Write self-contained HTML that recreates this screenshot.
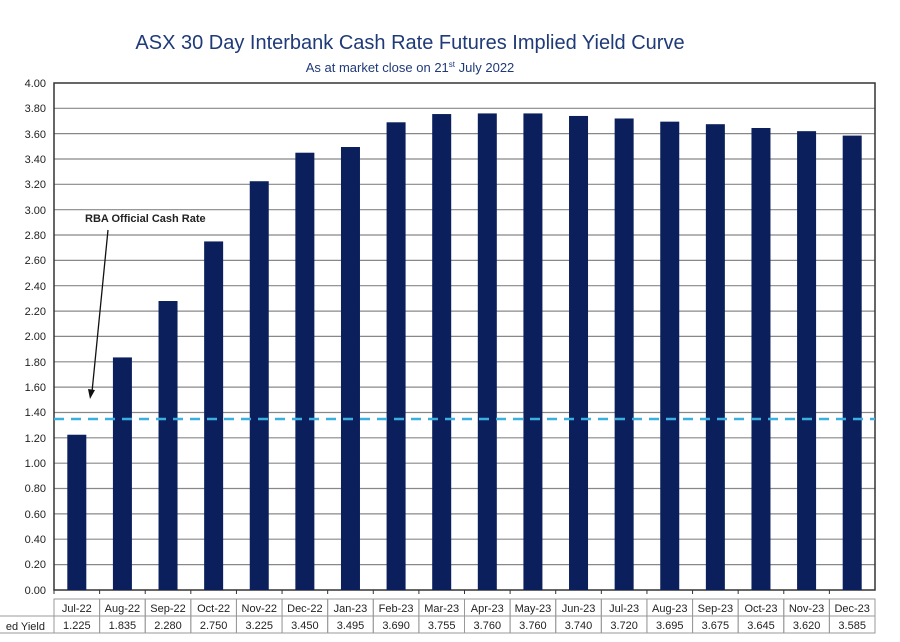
<!DOCTYPE html>
<html><head><style>body{margin:0;background:#fff}</style></head><body>
<svg width="900" height="637" xmlns="http://www.w3.org/2000/svg" font-family="Liberation Sans, sans-serif">
<text x="410" y="49" text-anchor="middle" font-size="20" fill="#1f3a78">ASX 30 Day Interbank Cash Rate Futures Implied Yield Curve</text>
<text x="410" y="72" text-anchor="middle" font-size="13" fill="#1f3a78">As at market close on 21<tspan font-size="8" dy="-5">st</tspan><tspan dy="5"> July 2022</tspan></text>
<g stroke="#888" stroke-width="1.2">
<line x1="54" x2="875" y1="108.3" y2="108.3"/><line x1="54" x2="875" y1="133.6" y2="133.6"/><line x1="54" x2="875" y1="159" y2="159"/><line x1="54" x2="875" y1="184.3" y2="184.3"/><line x1="54" x2="875" y1="209.7" y2="209.7"/><line x1="54" x2="875" y1="235" y2="235"/><line x1="54" x2="875" y1="260.4" y2="260.4"/><line x1="54" x2="875" y1="285.7" y2="285.7"/><line x1="54" x2="875" y1="311.1" y2="311.1"/><line x1="54" x2="875" y1="336.4" y2="336.4"/><line x1="54" x2="875" y1="361.8" y2="361.8"/><line x1="54" x2="875" y1="387.1" y2="387.1"/><line x1="54" x2="875" y1="412.5" y2="412.5"/><line x1="54" x2="875" y1="437.8" y2="437.8"/><line x1="54" x2="875" y1="463.2" y2="463.2"/><line x1="54" x2="875" y1="488.5" y2="488.5"/><line x1="54" x2="875" y1="513.9" y2="513.9"/><line x1="54" x2="875" y1="539.2" y2="539.2"/><line x1="54" x2="875" y1="564.6" y2="564.6"/>
</g>
<rect x="54" y="83" width="821" height="507" fill="none" stroke="#333" stroke-width="1.5"/>
<g font-size="11" fill="#222" text-anchor="end">
<text x="46" y="87">4.00</text><text x="46" y="112">3.80</text><text x="46" y="138">3.60</text><text x="46" y="163">3.40</text><text x="46" y="188">3.20</text><text x="46" y="214">3.00</text><text x="46" y="239">2.80</text><text x="46" y="264">2.60</text><text x="46" y="290">2.40</text><text x="46" y="315">2.20</text><text x="46" y="340">2.00</text><text x="46" y="366">1.80</text><text x="46" y="391">1.60</text><text x="46" y="416">1.40</text><text x="46" y="442">1.20</text><text x="46" y="467">1.00</text><text x="46" y="492">0.80</text><text x="46" y="518">0.60</text><text x="46" y="543">0.40</text><text x="46" y="568">0.20</text><text x="46" y="594">0.00</text>
</g>
<g fill="#0b1f5c" id="bars"></g>
<line x1="54" x2="875" y1="419" y2="419" stroke="#3ab0e0" stroke-width="2.5" stroke-dasharray="10,7"/>
<text x="85" y="222" font-size="11" font-weight="bold" fill="#222">RBA Official Cash Rate</text>
<line x1="108" y1="230" x2="92" y2="392" stroke="#111" stroke-width="1.3"/>
<polygon points="90,399 88,389 95,390" fill="#111"/>
<g id="tbl" font-size="11" fill="#222" text-anchor="middle"></g>
<text x="45" y="630" font-size="11" fill="#222" text-anchor="end">ed Yield</text>
<script>
var v=[1.225,1.835,2.280,2.750,3.225,3.450,3.495,3.690,3.755,3.760,3.760,3.740,3.720,3.695,3.675,3.645,3.620,3.585];
var m=["Jul-22","Aug-22","Sep-22","Oct-22","Nov-22","Dec-22","Jan-23","Feb-23","Mar-23","Apr-23","May-23","Jun-23","Jul-23","Aug-23","Sep-23","Oct-23","Nov-23","Dec-23"];
var ns="http://www.w3.org/2000/svg",b=document.getElementById("bars"),t=document.getElementById("tbl");
function el(p,n,a,txt){var e=document.createElementNS(ns,n);for(var k in a)e.setAttribute(k,a[k]);if(txt)e.textContent=txt;p.appendChild(e);return e;}
var w=821/18;
for(var i=0;i<18;i++){var c=54+w*(i+0.5),h=v[i]*126.75;
el(b,"rect",{x:c-9.5,y:590-h,width:19,height:h});
el(t,"rect",{x:54+w*i,y:599,width:w,height:17,fill:"none",stroke:"#999"});
el(t,"rect",{x:54+w*i,y:616,width:w,height:17,fill:"none",stroke:"#999"});
el(t,"text",{x:c,y:612},m[i]);el(t,"text",{x:c,y:629},v[i].toFixed(3));
el(t,"line",{x1:54+w*i,x2:54+w*i,y1:590,y2:594,stroke:"#333"});}
</script>
<rect x="-1" y="616" width="55" height="17" fill="none" stroke="#999"/>
</svg>
</body></html>
